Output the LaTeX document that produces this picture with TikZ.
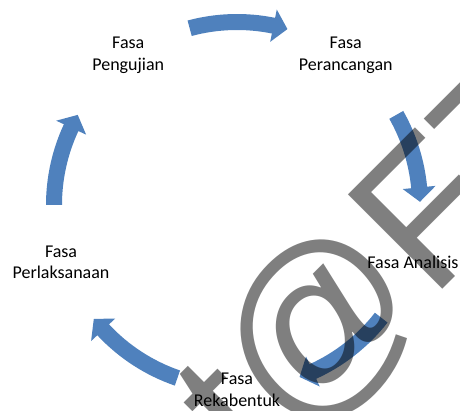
\documentclass[tikz,border=0pt]{standalone}
\usepackage{fontspec}
\setmainfont{Carlito}
\newfontfamily\stampfont{Liberation Sans}
\definecolor{cycleblue}{RGB}{79,129,189}

\begin{document}
\begin{tikzpicture}[x=1pt, y=1pt,
    phase/.style={align=center, inner sep=0pt, font=\fontsize{18}{21.5}\selectfont},
    cyclearrow/.style={fill=cycleblue},
    stamp/.style={text=black, opacity=0.5, rotate=45, anchor=base west, inner sep=0pt, font=\stampfont\fontsize{194}{194}\selectfont}]
  \useasboundingbox (0,0) rectangle (460,410);
  \clip (0,0) rectangle (460,410);
  \coordinate (c) at (237,205);

  % arrows round the cycle
  \begin{scope}[shift={(c)}]
    \foreach \sa/\ea in {105/74, 29.5/1, -38/-70, -109/-141.5, 180/150.5}
      \fill[cyclearrow] (\sa:191) arc[start angle=\sa, end angle=\ea+4.5, radius=191]
        -- ({\ea+4.5}:199.5) -- (\ea:183) -- ({\ea+4.5}:166.5) -- ({\ea+4.5}:175)
        arc[start angle=\ea+4.5, end angle=\sa, radius=175] -- cycle;
  \end{scope}

  % phases
  \node[phase] (uji) at ([shift={(126:185)}]c) {Fasa\\Pengujian};
  \node[phase] (rancang) at ([shift={(54:185)}]c) {Fasa\\Perancangan};
  \node[phase] (analisis) at ([shift={(-18:185)}]c) {Fasa Analisis};
  \node[phase] (reka) at ([shift={(-90:185)}]c) {Fasa\\Rekabentuk};
  \node[phase] (laksana) at ([shift={(198:185)}]c) {Fasa\\Perlaksanaan};

  % watermark
  \node[stamp] (mark) at (254,-68) {t@FT};
\end{tikzpicture}
\end{document}
